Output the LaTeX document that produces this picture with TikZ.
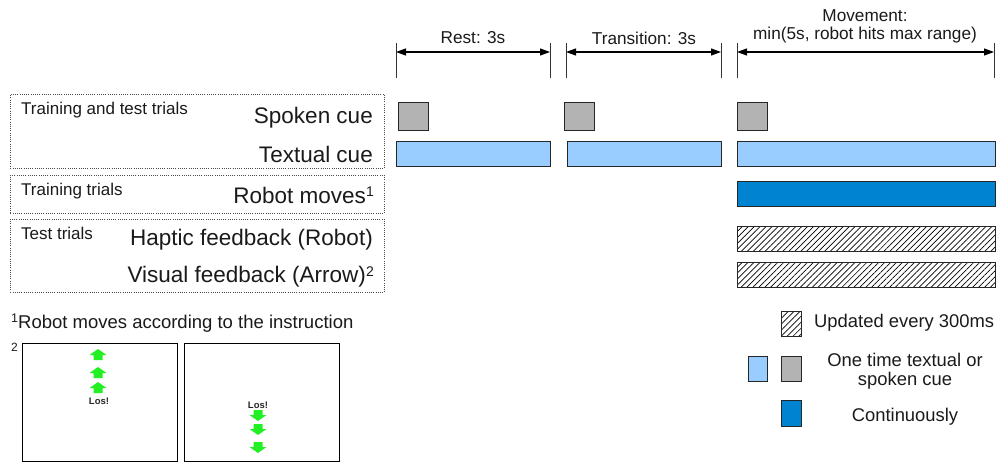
\documentclass[tikz,border=0pt]{standalone}
\usepackage{fontspec}
\setmainfont{Liberation Sans}
\usetikzlibrary{arrows.meta,patterns.meta}
\definecolor{cuegray}{HTML}{B3B3B3}
\definecolor{lightblue}{HTML}{99CCFF}
\definecolor{darkblue}{HTML}{0084D1}
\definecolor{arrgreen}{HTML}{22F022}
\definecolor{txt}{HTML}{1A1A1A}
\newcommand{\supr}[1]{\raisebox{0.55ex}{\fontsize{14}{14}\selectfont #1}}
\newcommand{\suprs}[1]{\raisebox{0.6ex}{\fontsize{12.5}{12.5}\selectfont #1}}
\begin{document}
\begin{tikzpicture}[x=1pt,y=-1pt,
  every node/.style={text=txt},
  blk/.style={draw=black!85, line width=0.9pt, inner sep=0pt, anchor=north west},
  graybox/.style={blk, fill=cuegray, minimum width=30pt, minimum height=28pt},
  textbar/.style={blk, fill=lightblue, minimum height=25pt},
  contbar/.style={blk, fill=darkblue, minimum height=25pt},
  hatchbar/.style={blk, minimum height=25pt, pattern={Lines[angle=45,distance=4.2pt,line width=0.7pt]}},
  groupbox/.style={draw=black!70, dash pattern=on 1pt off 1.2pt, line width=0.9pt, inner sep=0pt, anchor=north west},
  biglabel/.style={font=\fontsize{22.5}{24}\selectfont, anchor=east, inner sep=0pt},
  smalllabel/.style={font=\fontsize{17}{19}\selectfont, anchor=west, inner sep=0pt},
  timelabel/.style={font=\fontsize{17.2}{20}\selectfont, inner sep=0pt, align=center},
  legendlabel/.style={font=\fontsize{18.4}{19}\selectfont, inner sep=0pt, align=center},
  tick/.style={draw=black!80, line width=0.9pt},
  dim/.style={draw=black, line width=1.1pt, {Triangle[length=10pt,width=7pt]}-{Triangle[length=10pt,width=7pt]}},
  frame/.style={draw=black, line width=0.9pt, inner sep=0pt, anchor=north west},
  losl/.style={font=\bfseries\fontsize{9.5}{9.5}\selectfont, inner sep=0pt, text=black!85},
  uparr/.pic={\fill[arrgreen] (-8.5,0) -- (0,-6) -- (8.5,0) -- (4.5,0) -- (4.5,5) -- (-4.5,5) -- (-4.5,0) -- cycle;},
  dnarr/.pic={\fill[arrgreen] (-8.5,0) -- (0,6) -- (8.5,0) -- (4.5,0) -- (4.5,-5) -- (-4.5,-5) -- (-4.5,0) -- cycle;}
]
\useasboundingbox (0,0) rectangle (996,464);

% ---------- timeline ----------
\coordinate (k1t) at (396,43); \coordinate (k1b) at (396,78);
\coordinate (k2t) at (550,43); \coordinate (k2b) at (550,78);
\coordinate (k3t) at (566,43); \coordinate (k3b) at (566,78);
\coordinate (k4t) at (721,43); \coordinate (k4b) at (721,78);
\coordinate (k5t) at (737,43); \coordinate (k5b) at (737,78);
\coordinate (k6t) at (994,43); \coordinate (k6b) at (994,78);
\foreach \k in {1,...,6} {\draw[tick] (k\k t) -- (k\k b);}
\coordinate (a1) at (396,52); \coordinate (a2) at (550,52);
\coordinate (a3) at (566,52); \coordinate (a4) at (721,52);
\coordinate (a5) at (737,52); \coordinate (a6) at (994,52);
\draw[dim] (a1) -- (a2);
\draw[dim] (a3) -- (a4);
\draw[dim] (a5) -- (a6);
\node[timelabel] (restlbl) at (473,38) {Rest: 3s};
\node[timelabel] (translbl) at (644,38) {Transition: 3s};
\node[timelabel] (movlbl1) at (865,16) {Movement:};
\node[timelabel] (movlbl2) at (865,35) {min(5s, robot hits max range)};

% ---------- group boxes ----------
\node[groupbox, minimum width=374pt, minimum height=74pt] (g1) at (10,94) {};
\node[groupbox, minimum width=374pt, minimum height=38pt] (g2) at (10,175) {};
\node[groupbox, minimum width=374pt, minimum height=73pt] (g3) at (10,219) {};

\node[smalllabel] (l1) at (21,110) {Training and test trials};
\node[smalllabel] (l2) at (21,191) {Training trials};
\node[smalllabel] (l3) at (21,233) {Test trials};

\node[biglabel] (spoken) at (373,118) {Spoken cue};
\node[biglabel] (textual) at (373,154) {Textual cue};
\node[biglabel] (robot) at (374,195) {Robot moves\supr{1}};
\node[biglabel] (haptic) at (373,240) {Haptic feedback (Robot)};
\node[biglabel] (visual) at (374,277) {Visual feedback (Arrow)\supr{2}};

% ---------- bars ----------
\node[graybox] (s1) at (398,102) {};
\node[graybox] (s2) at (564,102) {};
\node[graybox] (s3) at (737,102) {};
\node[textbar, minimum width=154pt] (t1) at (396,141) {};
\node[textbar, minimum width=154pt] (t2) at (567,141) {};
\node[textbar, minimum width=258pt] (t3) at (737,141) {};
\node[contbar, minimum width=258pt] (r1) at (737,181) {};
\node[hatchbar, minimum width=258pt] (h1) at (737,226) {};
\node[hatchbar, minimum width=258pt] (v1) at (737,262) {};

% ---------- footnotes ----------
\node[anchor=west, inner sep=0pt, font=\fontsize{18.5}{20}\selectfont] (fn1) at (11,323) {\suprs{1}Robot moves according to the instruction};
\node[anchor=west, inner sep=0pt, font=\fontsize{12}{12}\selectfont] (fn2) at (11,347) {2};

\node[frame, minimum width=155pt, minimum height=118pt] (f1) at (22,343) {};
\node[frame, minimum width=155pt, minimum height=118pt] (f2) at (184,343) {};
\pic at (98,355) {uparr};
\pic at (98,373) {uparr};
\pic at (98,388) {uparr};
\node[losl] (los1) at (99,401) {Los!};
\node[losl] (los2) at (258,405) {Los!};
\pic at (258,415) {dnarr};
\pic at (258,429) {dnarr};
\pic at (258,447) {dnarr};

% ---------- legend ----------
\node[blk, minimum width=20pt, minimum height=25pt, pattern={Lines[angle=45,distance=4.2pt,line width=0.7pt]}] (lh) at (781,311) {};
\node[legendlabel, anchor=west] (lht) at (814,323) {Updated every 300ms};
\node[blk, fill=lightblue, minimum width=19pt, minimum height=25pt] (llb) at (748,356) {};
\node[blk, fill=cuegray, minimum width=20pt, minimum height=25pt] (lg) at (781,356) {};
\node[legendlabel] (lgt) at (905,371) {One time textual or\\spoken cue};
\node[blk, fill=darkblue, minimum width=20pt, minimum height=26pt] (ld) at (781,400) {};
\node[legendlabel] (ldt) at (905,417) {Continuously};
\end{tikzpicture}
\end{document}
